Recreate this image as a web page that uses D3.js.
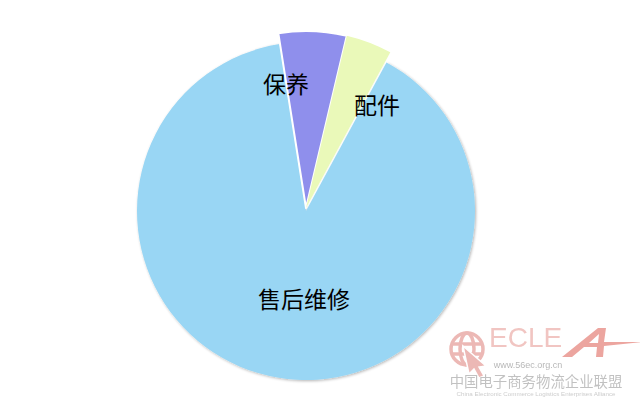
<!DOCTYPE html>
<html><head><meta charset="utf-8">
<script src="https://cdn.jsdelivr.net/npm/d3@7"></script>
<style>body{margin:0;background:#fff}svg{display:block}</style>
</head><body>
<svg id="c" width="640" height="400"></svg>
<script>
const categories = ["售后维修", "保养", "配件"];
const values = [89.6, 6.2, 4.2];
const colors = ["#99D6F4", "#8F8FEC", "#EAF9B9"];

const svg = d3.select("#c");
const defs = svg.append("defs");
const f = defs.append("filter").attr("id","sh").attr("x","-10%").attr("y","-10%").attr("width","120%").attr("height","120%");
f.append("feGaussianBlur").attr("in","SourceAlpha").attr("stdDeviation",1.5).attr("result","b");
f.append("feOffset").attr("in","b").attr("dx",1).attr("dy",1).attr("result","o");
f.append("feComponentTransfer").attr("in","o").attr("result","o2").append("feFuncA").attr("type","linear").attr("slope",0.3);
const fm = f.append("feMerge"); fm.append("feMergeNode").attr("in","o2"); fm.append("feMergeNode").attr("in","SourceGraphic");

const data = categories.map((c,i)=>({name:c, value:values[i], color:colors[i]}));
const total = d3.sum(values);
const startSmall = -9 * Math.PI/180;
const blueSpan = values[0]/total * 2*Math.PI;
const pie = d3.pie().value(d=>d.value).sort(null)
  .startAngle(startSmall - blueSpan).endAngle(startSmall - blueSpan + 2*Math.PI);
const arcs = pie(data);

const big = svg.append("g").attr("transform","translate(306,211)");
const small = svg.append("g").attr("transform","translate(306,208)");
const arcBig = d3.arc().innerRadius(0).outerRadius(169);
const arcSmall = d3.arc().innerRadius(0).outerRadius(177);

big.append("path").datum(arcs[0]).attr("d",arcBig).attr("fill",arcs[0].data.color).attr("filter","url(#sh)");
small.selectAll("path").data(arcs.slice(1)).join("path")
  .attr("d",arcSmall).attr("fill",d=>d.data.color)
  .attr("stroke",(d,i)=>i===0?"#fff":"none").attr("stroke-width",2).attr("stroke-linejoin","round");

// watermark
const wm = svg.append("g").attr("opacity",0.6);
const g = wm.append("g").attr("transform","translate(467,349)").attr("fill","none").attr("stroke","#E08A84").attr("stroke-width",3.5);
g.append("circle").attr("r",16);
g.append("ellipse").attr("rx",7).attr("ry",16);
g.append("line").attr("x1",-16).attr("x2",16).attr("y1",-5).attr("y2",-5);
g.append("line").attr("x1",-16).attr("x2",16).attr("y1",5).attr("y2",5);
wm.append("path").attr("d","M463,346 L486,366 L479,367 L484,376 L479,378 L474,369 L469,374 Z").attr("fill","#E08A84").attr("stroke","#fff").attr("stroke-width",1.5);
wm.append("text").attr("x",489).attr("y",347).attr("font-family","Liberation Sans, Arial, sans-serif").attr("font-size",28).attr("fill","#E8A09A").text("ECLE");
wm.append("path").attr("d","M562,357 L598,328 L606,328 L604,342 L642,342 L604,346 L603,357 L596,357 L597,347 L584,347 L572,357 Z M589,343 L598,343 L599,334 Z").attr("fill","#E06A60").attr("fill-rule","evenodd");
wm.append("text").attr("x",528).attr("y",368).attr("text-anchor","middle").attr("font-family","Liberation Sans, Arial, sans-serif").attr("font-size",9).attr("fill","#888").text("www.56ec.org.cn");
wm.append("text").attr("x",536).attr("y",387).attr("text-anchor","middle").attr("font-family","Noto Sans CJK SC").attr("font-size",14.4).attr("fill","#999").text("中国电子商务物流企业联盟");
wm.append("text").attr("x",536).attr("y",396).attr("text-anchor","middle").attr("font-family","Liberation Sans, Arial, sans-serif").attr("font-size",6.2).attr("fill","#aaa").text("China Electronic Commerce Logistics Enterprises Alliance");

// labels
const labelPos = [[304,308],[286,93],[377,114]];
svg.selectAll("text.lbl").data(data).join("text").attr("class","lbl")
  .attr("x",(d,i)=>labelPos[i][0]).attr("y",(d,i)=>labelPos[i][1])
  .attr("text-anchor","middle").attr("font-family","Noto Sans CJK SC").attr("font-size",23).attr("fill","#000")
  .text(d=>d.name);
</script>
</body></html>
